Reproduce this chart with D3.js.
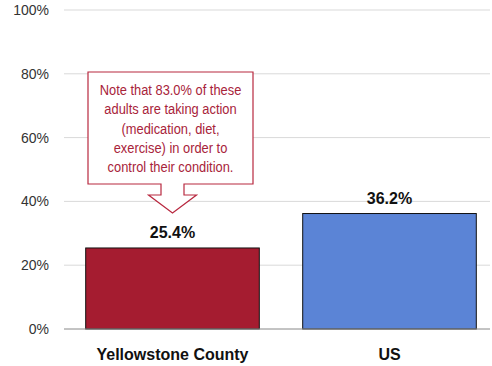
<!DOCTYPE html>
<html><head><meta charset="utf-8">
<script src="https://cdn.jsdelivr.net/npm/d3@7"></script>
<style>body{margin:0;background:#fff;}svg{display:block;font-family:"Liberation Sans",Arial,sans-serif;}</style>
</head><body>
<svg id="c" width="492" height="366"></svg>
<script>
const categories = ["Yellowstone County", "US"];
const values = [25.4, 36.2];
const barColors = ["#A51C30", "#5B84D6"];
const yTicks = [0, 20, 40, 60, 80, 100];
const noteLines = ["Note that 83.0% of these", "adults are taking action", "(medication, diet,", "exercise) in order to", "control their condition."];

const svg = d3.select("#c");
const y = d3.scaleLinear().domain([0, 100]).range([329, 10]);
const x = d3.scaleBand().domain(categories).range([64, 498]).paddingInner(0.2).paddingOuter(0.1);

// gridlines
svg.append("g").selectAll("line").data(yTicks.filter(d => d > 0)).join("line")
  .attr("x1", 64).attr("x2", 490).attr("y1", d => y(d)).attr("y2", d => y(d))
  .attr("stroke", "#d9d9d9").attr("stroke-width", 1);

// y axis labels
const yAxis = d3.axisLeft(y).tickValues(yTicks).tickFormat(d => d + "%").tickSize(0).tickPadding(15);
const ga = svg.append("g").attr("transform", "translate(64,0)").call(yAxis);
ga.select(".domain").remove();
ga.selectAll("text").attr("font-size", 14).attr("fill", "#333").attr("font-family", "Liberation Sans, Arial, sans-serif");

// bars
svg.append("g").selectAll("rect").data(values).join("rect")
  .attr("x", (d, i) => x(categories[i])).attr("width", x.bandwidth())
  .attr("y", d => y(d)).attr("height", d => y(0) - y(d))
  .attr("fill", (d, i) => barColors[i]).attr("stroke", "#111").attr("stroke-width", 1);

// baseline
svg.append("line").attr("x1", 64).attr("x2", 490).attr("y1", y(0)).attr("y2", y(0))
  .attr("stroke", "#888").attr("stroke-width", 1);

// value labels
svg.append("g").selectAll("text").data(values).join("text")
  .attr("x", (d, i) => x(categories[i]) + x.bandwidth() / 2)
  .attr("y", d => y(d) - 10)
  .attr("text-anchor", "middle").attr("font-size", 16).attr("font-weight", "bold").attr("fill", "#111")
  .text(d => d.toFixed(1) + "%");

// x labels
svg.append("g").selectAll("text").data(categories).join("text")
  .attr("x", d => x(d) + x.bandwidth() / 2).attr("y", 360)
  .attr("text-anchor", "middle").attr("font-size", 16).attr("font-weight", "bold").attr("fill", "#111")
  .text(d => d);

// callout
const cx = x(categories[0]) + x.bandwidth() / 2;
const bx0 = 88, bx1 = 253, by0 = 72, by1 = 184;
const sw = 11.5, headW = 24, shaftBot = 195, tipY = 213;
const path = [
  [bx0, by0], [bx1, by0], [bx1, by1], [cx + sw, by1], [cx + sw, shaftBot], [cx + headW, shaftBot],
  [cx, tipY], [cx - headW, shaftBot], [cx - sw, shaftBot], [cx - sw, by1], [bx0, by1]
];
svg.append("path").attr("d", d3.line()(path) + "Z")
  .attr("fill", "#fff").attr("stroke", "#B8283F").attr("stroke-width", 1.2);
svg.append("g").attr("transform", `translate(${(bx0 + bx1) / 2},0) scale(0.92,1)`)
  .selectAll("text").data(noteLines).join("text")
  .attr("x", 0).attr("y", (d, i) => 95 + i * 19.3)
  .attr("text-anchor", "middle").attr("font-size", 14).attr("fill", "#A8233A")
  .text(d => d);
</script>
</body></html>
